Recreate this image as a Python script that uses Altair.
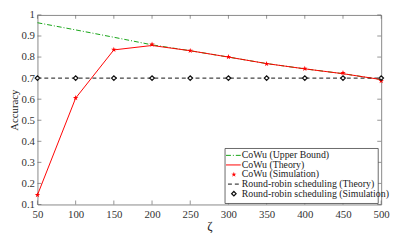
import altair as alt
import pandas as pd

# ---- data ----
zeta = [50, 100, 150, 200, 250, 300, 350, 400, 450, 500]
upper_bound = [0.963, 0.929, 0.894, 0.858, 0.830, 0.800, 0.769, 0.744, 0.721, 0.693]
theory = [0.145, 0.605, 0.834, 0.855, 0.830, 0.800, 0.769, 0.744, 0.721, 0.693]
simulation = [0.145, 0.606, 0.835, 0.860, 0.830, 0.801, 0.768, 0.745, 0.725, 0.687]
rr_theory = [0.70] * 10
rr_simulation = [0.70] * 10

x_ticks = [50, 100, 150, 200, 250, 300, 350, 400, 450, 500]
y_ticks = [0.1, 0.2, 0.3, 0.4, 0.5, 0.6, 0.7, 0.8, 0.9, 1.0]
legend_labels = [
    "CoWu (Upper Bound)",
    "CoWu (Theory)",
    "CoWu (Simulation)",
    "Round-robin scheduling (Theory)",
    "Round-robin scheduling (Simulation)",
]

# ---- styling ----
FONT = "'Liberation Serif', 'Times New Roman', serif"
W, H = 350, 193
GREEN = "#13a313"
RED = "#ff0000"
BLACK = "#111111"
STAR = ("M0,-1 L0.2245,-0.309 L0.951,-0.309 L0.363,0.118 L0.588,0.809 "
        "L0,0.382 L-0.588,0.809 L-0.363,0.118 L-0.951,-0.309 L-0.2245,-0.309 Z")

df = pd.DataFrame({
    "zeta": zeta,
    "upper": upper_bound,
    "theory": theory,
    "sim": simulation,
    "rr_t": rr_theory,
    "rr_s": rr_simulation,
})

xscale = alt.Scale(domain=[x_ticks[0], x_ticks[-1]], nice=False, zero=False)
yscale = alt.Scale(domain=[y_ticks[0], y_ticks[-1]], nice=False, zero=False)

x_axis = alt.Axis(values=x_ticks, format="d", ticks=False, domain=False, grid=False,
                  labelFont=FONT, labelFontSize=11, labelColor="#333333",
                  labelPadding=4, labelOverlap=False, labelBound=False,
                  labelFlush=False, titleFont=FONT, titleFontSize=13,
                  titleFontWeight="normal", titleColor="#222222", titlePadding=1)
y_axis = alt.Axis(values=y_ticks, format=".1~f", ticks=False, domain=False, grid=False,
                  labelFont=FONT, labelFontSize=11, labelColor="#333333",
                  labelPadding=3, labelOverlap=False, labelBound=False,
                  labelFlush=False, titleFont=FONT,
                  titleFontSize=11, titleFontWeight="normal", titleColor="#222222",
                  titlePadding=2)


def X(field):
    return alt.X(f"{field}:Q", scale=xscale, axis=x_axis, title="ζ")


def Y(field):
    return alt.Y(f"{field}:Q", scale=yscale, axis=y_axis, title="Accuracy")


base = alt.Chart(df)

green = base.mark_line(color=GREEN, strokeWidth=1, strokeDash=[5, 2, 1, 2]).encode(x=X("zeta"), y=Y("upper"))
rr_line = base.mark_line(color=BLACK, strokeWidth=1, strokeDash=[4, 3]).encode(x=X("zeta"), y=Y("rr_t"))
red = base.mark_line(color=RED, strokeWidth=1).encode(x=X("zeta"), y=Y("theory"))
stars = base.mark_point(shape=STAR, filled=True, color=RED, size=34, opacity=1).encode(x=X("zeta"), y=Y("sim"))
diamonds = base.mark_point(shape="diamond", filled=True, fill="white", stroke=BLACK,
                           strokeWidth=1.3, size=22, opacity=1).encode(x=X("zeta"), y=Y("rr_s"))

# inward ticks (box style)
xt = pd.DataFrame({"t": x_ticks, "lo": [y_ticks[0]] * len(x_ticks), "hi": [y_ticks[-1]] * len(x_ticks)})
yt = pd.DataFrame({"t": y_ticks, "lo": [x_ticks[0]] * len(y_ticks), "hi": [x_ticks[-1]] * len(y_ticks)})
tick_kw = dict(color="#666666", thickness=1, size=4)
tick_bottom = alt.Chart(xt).mark_tick(orient="vertical", yOffset=-2, **tick_kw).encode(
    x=X("t"), y=Y("lo"))
tick_top = alt.Chart(xt).mark_tick(orient="vertical", yOffset=2, **tick_kw).encode(
    x=X("t"), y=Y("hi"))
tick_left = alt.Chart(yt).mark_tick(orient="horizontal", xOffset=2, **tick_kw).encode(
    y=Y("t"), x=X("lo"))
tick_right = alt.Chart(yt).mark_tick(orient="horizontal", xOffset=-2, **tick_kw).encode(
    y=Y("t"), x=X("hi"))

# ---- legend ----
LX0, LX1 = 191, W - 3
LY0, LY1 = H - 57, H - 1
ROW0, DY = LY0 + 7, 9.75
SAMPLE_X0, SAMPLE_X1, SYM_X, TEXT_X = LX0 + 1, LX0 + 16, LX0 + 9, LX0 + 17

one = pd.DataFrame({"k": [0]})
legend_layers = [
    alt.Chart(one).mark_rect(fill="white", stroke="#444444", strokeWidth=0.8).encode(
        x=alt.value(LX0), x2=alt.value(LX1), y=alt.value(LY0), y2=alt.value(LY1)),
    alt.Chart(one).mark_rule(color=GREEN, strokeWidth=1, strokeDash=[5, 2, 1, 2]).encode(
        x=alt.value(SAMPLE_X0), x2=alt.value(SAMPLE_X1), y=alt.value(ROW0)),
    alt.Chart(one).mark_rule(color=RED, strokeWidth=1).encode(
        x=alt.value(SAMPLE_X0), x2=alt.value(SAMPLE_X1), y=alt.value(ROW0 + DY)),
    alt.Chart(one).mark_point(shape=STAR, filled=True, color=RED, size=30, opacity=1).encode(
        x=alt.value(SYM_X), y=alt.value(ROW0 + 2 * DY)),
    alt.Chart(one).mark_rule(color=BLACK, strokeWidth=1, strokeDash=[4, 3]).encode(
        x=alt.value(SAMPLE_X0 + 2), x2=alt.value(SAMPLE_X1 - 1), y=alt.value(ROW0 + 3 * DY)),
    alt.Chart(one).mark_point(shape="diamond", filled=True, fill="white", stroke=BLACK,
                              strokeWidth=1.3, size=20, opacity=1).encode(
        x=alt.value(SYM_X), y=alt.value(ROW0 + 4 * DY)),
]
for i, lab in enumerate(legend_labels):
    legend_layers.append(
        alt.Chart(pd.DataFrame({"label": [lab]})).mark_text(
            align="left", baseline="middle", font=FONT, fontSize=10, color="#222222"
        ).encode(text="label:N", x=alt.value(TEXT_X), y=alt.value(ROW0 + i * DY))
    )

chart = alt.layer(
    green, rr_line, red, stars, diamonds,
    tick_bottom, tick_top, tick_left, tick_right,
    *legend_layers,
).properties(
    width=W, height=H,
    autosize=alt.AutoSizeParams(type="none"),
    padding={"left": 30, "top": 5, "right": 10, "bottom": 28},
    background="white",
).configure_view(stroke="#888888", strokeWidth=1)

chart.save("out.html", embed_options={"renderer": "svg", "actions": False})
